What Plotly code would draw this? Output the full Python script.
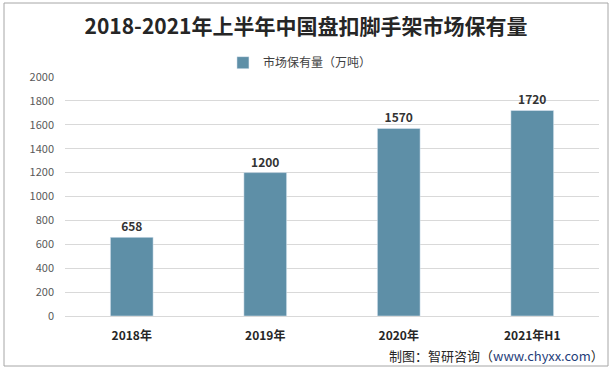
import plotly.graph_objects as go

categories = ["2018年", "2019年", "2020年", "2021年H1"]
values = [658, 1200, 1570, 1720]
series_name = "市场保有量（万吨）"
title = "2018-2021年上半年中国盘扣脚手架市场保有量"
source = "制图：智研咨询（<span style='color:#1f3d7a'>www.chyxx.com</span>）"

font = "Microsoft YaHei, Noto Sans CJK SC, sans-serif"
fig = go.Figure()
fig.add_trace(go.Bar(
    x=categories, y=values, name=series_name,
    marker=dict(color="#5e8fa7"),
    width=0.32,
    text=[str(v) for v in values], textposition="outside",
    textfont=dict(size=12, color="#333333", family=font),
    texttemplate="<b>%{text}</b>", cliponaxis=False,
))
fig.update_layout(
    width=612, height=368,
    margin=dict(l=65, r=13, t=77, b=52, autoexpand=False),
    paper_bgcolor="white", plot_bgcolor="white",
    font=dict(family=font),
    title=dict(text="<b>" + title + "</b>", x=0.5, xanchor="center", y=0.928, yanchor="middle",
               font=dict(size=21, color="#262626", family=font)),
    showlegend=True,
    legend=dict(orientation="h", x=0.44, xanchor="center", y=1.06, yanchor="middle",
                font=dict(size=12, color="#404040", family=font), itemwidth=30),
    xaxis=dict(tickfont=dict(size=12, color="#262626", family=font),
               tickprefix="<b>", ticksuffix="</b>", ticklabelstandoff=9, automargin=False,
               showline=True, linecolor="#d9d9d9", linewidth=1, ticks=""),
    yaxis=dict(range=[0, 2000], dtick=200, showgrid=True, gridcolor="#d9d9d9",
               tickfont=dict(size=11, color="#595959", family=font),
               zeroline=False, ticks="", ticklabelstandoff=10, automargin=False),
    bargap=0.68,
)
fig.add_annotation(text=source, xref="paper", yref="paper", x=1.013, y=-0.165,
                   xanchor="right", yanchor="middle", showarrow=False,
                   font=dict(size=13, color="#262626", family=font))
fig.add_shape(type="rect", xref="paper", yref="paper",
              x0=-(65-4)/534, x1=1+(608-599)/534, y0=-(366-316)/239, y1=1+(77-3)/239,
              line=dict(color="#a6a6a6", width=1), fillcolor="rgba(0,0,0,0)")
fig.write_html("out.html", config={"displayModeBar": False},
               post_script="document.body.style.margin='0';document.body.style.overflow='hidden';")
